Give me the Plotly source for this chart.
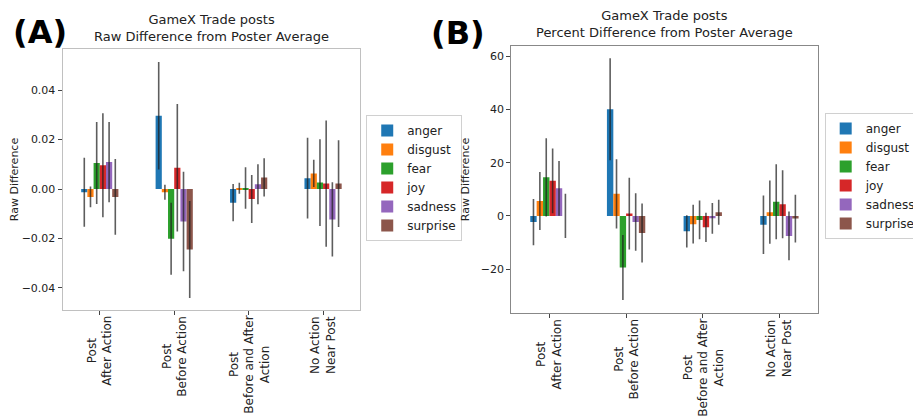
import plotly.graph_objects as go

# The page body has the browser's default 8px margin; size the figure so that it
# fills the rest of the 921x418 window, and express layout in window pixels.
OFF = 8
W, H = 921 - OFF, 418 - OFF

categories = ["Post<br>After Action", "Post<br>Before Action",
              "Post<br>Before and After<br>Action", "No Action<br>Near Post"]
emotions = ["anger", "disgust", "fear", "joy", "sadness", "surprise"]
colors = ["#1f77b4", "#ff7f0e", "#2ca02c", "#d62728", "#9467bd", "#8c564b"]

# Panel A: raw difference (mean, error half-width) per emotion across the 4 categories
raw_anger = [-0.0013, 0.0296, -0.0055, 0.0044]
raw_disgust = [-0.0032, -0.0013, 0.0003, 0.0063]
raw_fear = [0.0105, -0.0201, 0.0004, 0.0026]
raw_joy = [0.0096, 0.0086, -0.0040, 0.0022]
raw_sadness = [0.0109, -0.0131, 0.0019, -0.0123]
raw_surprise = [-0.0032, -0.0244, 0.0047, 0.0022]

raw_err_anger = [0.0139, 0.0217, 0.0075, 0.0163]
raw_err_disgust = [0.0042, 0.0030, 0.0022, 0.0055]
raw_err_fear = [0.0166, 0.0146, 0.0084, 0.0175]
raw_err_joy = [0.0210, 0.0258, 0.0097, 0.0255]
raw_err_sadness = [0.0162, 0.0201, 0.0081, 0.0150]
raw_err_surprise = [0.0153, 0.0196, 0.0077, 0.0175]

# Panel B: percent difference
pct_anger = [-2.3, 40.1, -5.8, -3.3]
pct_disgust = [5.6, 8.3, -3.1, 1.4]
pct_fear = [14.5, -19.4, -1.5, 5.3]
pct_joy = [13.2, 0.9, -4.3, 4.4]
pct_sadness = [10.4, -2.3, -0.9, -7.5]
pct_surprise = [0.0, -6.4, 1.4, -1.0]

pct_err_anger = [8.7, 19.2, 6.1, 11.0]
pct_err_disgust = [10.9, 13.0, 7.3, 11.9]
pct_err_fear = [14.7, 12.2, 7.3, 14.1]
pct_err_joy = [12.2, 13.5, 5.5, 12.8]
pct_err_sadness = [10.3, 10.8, 5.8, 9.2]
pct_err_surprise = [8.3, 11.1, 4.7, 9.0]

raw_vals = [raw_anger, raw_disgust, raw_fear, raw_joy, raw_sadness, raw_surprise]
raw_errs = [raw_err_anger, raw_err_disgust, raw_err_fear, raw_err_joy, raw_err_sadness, raw_err_surprise]
pct_vals = [pct_anger, pct_disgust, pct_fear, pct_joy, pct_sadness, pct_surprise]
pct_errs = [pct_err_anger, pct_err_disgust, pct_err_fear, pct_err_joy, pct_err_sadness, pct_err_surprise]

FONT = "DejaVu Sans"
TXT = "#222222"

fig = go.Figure()
x_idx = list(range(len(categories)))
err_col = "rgba(30,30,30,0.72)"

for i, emo in enumerate(emotions):
    fig.add_trace(go.Bar(
        x=x_idx, y=raw_vals[i], name=emo, marker_color=colors[i],
        marker_line_width=0,
        error_y=dict(type="data", array=raw_errs[i], visible=True,
                     color=err_col, thickness=1.6, width=0),
        xaxis="x", yaxis="y", legend="legend", offsetgroup=str(i)))
for i, emo in enumerate(emotions):
    fig.add_trace(go.Bar(
        x=x_idx, y=pct_vals[i], name=emo, marker_color=colors[i],
        marker_line_width=0,
        error_y=dict(type="data", array=pct_errs[i], visible=True,
                     color=err_col, thickness=1.6, width=0),
        xaxis="x2", yaxis="y2", legend="legend2", offsetgroup=str(i)))


def px_x(p):
    return (p - OFF) / W


def px_y(p):
    return 1 - (p - OFF) / H


axis_common = dict(showgrid=False, zeroline=False, ticks="outside", ticklen=4,
                   tickcolor="#444", tickwidth=1, mirror=True, showline=True,
                   tickfont=dict(family=FONT, size=11, color=TXT))

annotations = [
    dict(text="GameX Trade posts<br>Raw Difference from Poster Average",
         x=(px_x(63) + px_x(363)) / 2, y=px_y(28), xref="paper", yref="paper",
         xanchor="center", yanchor="middle", showarrow=False,
         font=dict(family=FONT, size=13, color=TXT)),
    dict(text="GameX Trade posts<br>Percent Difference from Poster Average",
         x=(px_x(515) + px_x(824)) / 2, y=px_y(24), xref="paper", yref="paper",
         xanchor="center", yanchor="middle", showarrow=False,
         font=dict(family=FONT, size=13, color=TXT)),
    dict(text="<b>(A)</b>", x=px_x(11), y=px_y(32), xref="paper", yref="paper",
         xanchor="left", yanchor="middle", showarrow=False,
         font=dict(family=FONT, size=32, color="black")),
    dict(text="<b>(B)</b>", x=px_x(432), y=px_y(33), xref="paper", yref="paper",
         xanchor="left", yanchor="middle", showarrow=False,
         font=dict(family=FONT, size=32, color="black")),
]
# category labels, rotated and centred under each tick
for xr, ytop in (("x", 314), ("x2", 317)):
    for xi, lab in zip(x_idx, categories):
        annotations.append(dict(
            text=lab, x=xi, xref=xr, y=px_y(ytop), yref="paper",
            xanchor="center", yanchor="top", textangle=-90, align="center",
            showarrow=False, font=dict(family=FONT, size=12, color=TXT)))

fig.update_layout(
    width=W, height=H, margin=dict(l=0, r=0, t=0, b=0),
    paper_bgcolor="white", plot_bgcolor="white",
    barmode="group", bargap=0.5, bargroupgap=0,
    font=dict(family=FONT, size=12, color=TXT),
    xaxis=dict(domain=[px_x(63), px_x(363)], range=[-0.5, 3.5], anchor="y",
               tickmode="array", tickvals=x_idx, showticklabels=False,
               linecolor="#c0c0c0", **axis_common),
    yaxis=dict(domain=[px_y(310), px_y(49)], range=[-0.0489, 0.0566], anchor="x",
               dtick=0.02, tick0=0, tickformat=".2f", linecolor="#c0c0c0",
               title=dict(text="Raw Difference", standoff=4,
                          font=dict(family=FONT, size=11, color=TXT)),
               **axis_common),
    xaxis2=dict(domain=[px_x(515), px_x(824)], range=[-0.5, 3.5], anchor="y2",
                tickmode="array", tickvals=x_idx, showticklabels=False,
                linecolor="#888888", **axis_common),
    yaxis2=dict(domain=[px_y(313), px_y(46)], range=[-36.5, 63.9], anchor="x2",
                dtick=20, tick0=0, linecolor="#888888",
                title=dict(text="Raw Difference", standoff=8,
                           font=dict(family=FONT, size=11, color=TXT)),
                **axis_common),
    legend=dict(x=px_x(369), y=px_y(115), xanchor="left", yanchor="top",
                bordercolor="#d0d0d0", borderwidth=1, bgcolor="white",
                font=dict(family=FONT, size=12, color=TXT)),
    legend2=dict(x=px_x(831), y=px_y(113), xanchor="left", yanchor="top",
                 bordercolor="#d0d0d0", borderwidth=1, bgcolor="white",
                 font=dict(family=FONT, size=12, color=TXT)),
    annotations=annotations,
)

fig.write_html("out.html")
